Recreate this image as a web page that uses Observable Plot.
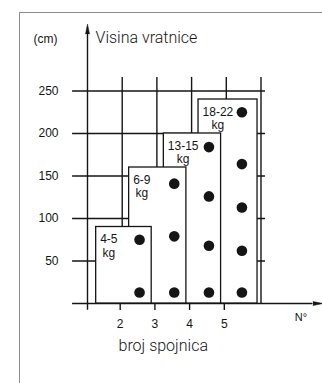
<!DOCTYPE html>
<html><head><meta charset="utf-8">
<script src="https://cdn.jsdelivr.net/npm/d3@7"></script>
<script src="https://cdn.jsdelivr.net/npm/@observablehq/plot@0.6"></script>
<style>
html,body{margin:0;padding:0;background:#fff;}
#wrap{position:relative;width:322px;height:383px;overflow:hidden;}
#wrap svg{position:absolute;left:0;top:0;}
#border{position:absolute;left:19px;top:12px;width:400px;height:400px;border-left:1.5px solid #8c8c8c;border-top:1.5px solid #8c8c8c;pointer-events:none;}
</style></head>
<body><div id="wrap"><div id="border"></div></div>
<script>
// Weight classes (labels inside the boxes)
const weightClasses = ["4-5", "6-9", "13-15", "18-22"];
const unitLabel = "kg";
// Box extents along the connector axis and box heights (cm)
const boxStart = [1.25, 2.2, 3.2, 4.2];
const boxEnd = [2.85, 3.85, 4.85, 5.9];
const boxTop = [90, 160, 200, 240];
// Connector (dot) positions per class and their heights (cm)
const dotConnectors = [2.5, 3.5, 4.5, 5.45];
const dotHeights = [
  [13, 75],
  [13, 79, 141],
  [13, 68, 126, 184],
  [13, 62, 113, 164, 225]
];
// Ticks and grid
const yTicks = [50, 100, 150, 200, 250];
const xTicks = [2, 3, 4, 5];
const gridX = [2, 3, 4, 5, 6];
const yTitle = "Visina vratnice";
const yUnit = "(cm)";
const xTitle = "broj spojnica";
const xUnit = "N°";

const boxes = weightClasses.map((c, i) => ({label: c, x1: boxStart[i], x2: boxEnd[i], top: boxTop[i], i}));
const dots = dotHeights.flatMap((hs, i) => hs.map(h => ({x: dotConnectors[i], y: h})));

const FONT = "Liberation Sans, Arial, Helvetica, sans-serif";
const LIGHT = "Roboto, Lato, 'Open Sans', sans-serif";
const ink = "#151515";

const cv = document.createElement("canvas").getContext("2d");
cv.font = "12px 'Liberation Sans'";
const w = s => cv.measureText(s).width;

const labelMarks = boxes.map(b => Plot.text([b], {
  x: "x1", y: "top", text: d => d.label + "\n" + unitLabel,
  textAnchor: "middle", lineAnchor: "top", lineHeight: 1.1,
  dx: 4 + w(b.label) / 2, dy: 7, fontSize: 12, fill: ink
}));

const chart = Plot.plot({
  width: 322, height: 383,
  marginLeft: 87, marginRight: 61.5, marginTop: 90.5, marginBottom: 80,
  x: {domain: [1, 6]},
  y: {domain: [0, 250]},
  style: {fontFamily: FONT, fontSize: "12px", background: "transparent", color: ink},
  marks: [
    // grid lines
    Plot.ruleY(yTicks, {x1: 0.57, x2: 6.13, stroke: ink, strokeWidth: 1.4}),
    Plot.ruleX(gridX, {y1: 0, y2: 266, stroke: ink, strokeWidth: 1.4}),
    // axes
    Plot.ruleY([0], {x1: 0.57, x2: 7.5, stroke: ink, strokeWidth: 1.4}),
    Plot.vector([7.5], {x: d => d, y: 0, rotate: 90, length: 10, r: 2, shape: "spike", anchor: "start", fill: ink, stroke: ink, strokeWidth: 0.5}),
    Plot.ruleX([1], {y1: -8, y2: 318, stroke: ink, strokeWidth: 1.4}),
    Plot.vector([1], {x: d => d, y: 317, rotate: 0, length: 10, r: 2, shape: "spike", anchor: "start", fill: ink, stroke: ink, strokeWidth: 0.5}),
    Plot.axisX(xTicks, {tickSize: 7, tickPadding: 9, fontSize: 12, label: null, stroke: ink, strokeWidth: 1.4, fill: ink, dx: -2}),
    Plot.axisY(yTicks, {tickSize: 0, tickPadding: 29, fontSize: 12, label: null, fill: ink}),
    // boxes (drawn so the smaller classes sit on top)
    Plot.rect(boxes.slice().reverse(), {x1: "x1", x2: "x2", y1: 0, y2: "top", fill: "white", stroke: ink, strokeWidth: 1.3}),
    // connectors
    Plot.dot(dots, {x: "x", y: "y", r: 5.3, fill: ink, stroke: "none"}),
    ...labelMarks,
    // titles
    Plot.text([yUnit], {frameAnchor: "top-left", textAnchor: "end", lineAnchor: "middle", dx: -30, dy: -52, fontSize: 12, fill: ink}),
    Plot.text([yTitle], {frameAnchor: "top-left", textAnchor: "start", lineAnchor: "bottom", dx: 8, dy: -48, fontSize: 16, fontFamily: LIGHT, fontWeight: 300, fill: ink}),
    Plot.text([xTitle], {frameAnchor: "bottom-left", textAnchor: "start", lineAnchor: "bottom", dx: 31, dy: 47, fontSize: 16, fontFamily: LIGHT, fontWeight: 300, fill: ink}),
    Plot.text([xUnit], {frameAnchor: "bottom-right", textAnchor: "middle", lineAnchor: "middle", dx: 40, dy: 14, fontSize: 11, fill: ink})
  ]
});
document.getElementById("wrap").appendChild(chart);
</script>
</body></html>
